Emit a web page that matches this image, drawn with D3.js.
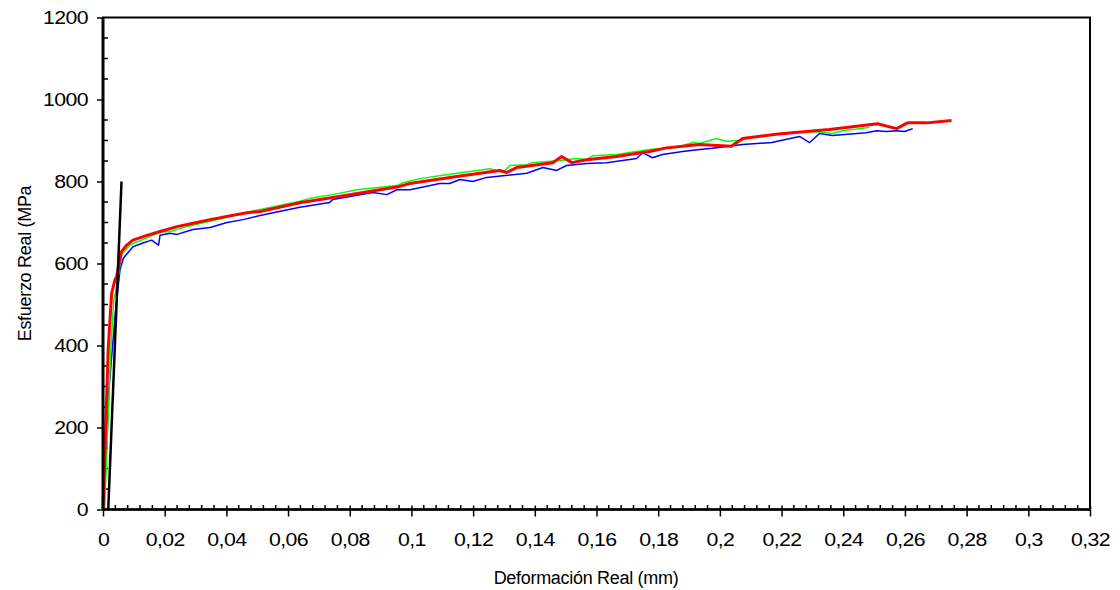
<!DOCTYPE html>
<html>
<head>
<meta charset="utf-8">
<script src="https://cdn.jsdelivr.net/npm/d3@7"></script>
<style>
  body { margin: 0; background: #fff; }
  #chart { width: 1120px; height: 590px; }
  text { font-family: "Liberation Sans", Arial, sans-serif; fill: #000; }
</style>
</head>
<body>
<div id="chart"></div>
<script>
// Tick values for both axes
var xTicks = [0, 0.02, 0.04, 0.06, 0.08, 0.1, 0.12, 0.14, 0.16, 0.18, 0.2, 0.22, 0.24, 0.26, 0.28, 0.3, 0.32];
var yTicks = [0, 200, 400, 600, 800, 1000, 1200];
var xLabel = "Deformación Real (mm)",
    yLabel = "Esfuerzo Real (MPa";

// Curve: [strain, stress]
var probetaAzul = [
  [0.0003, 0], [0.002, 300], [0.004, 480], [0.0055, 584], [0.0066, 613], [0.0097, 641], [0.013, 650],
  [0.0158, 657], [0.018, 645], [0.0185, 669], [0.0217, 674], [0.024, 671], [0.0292, 683], [0.0347, 688],
  [0.0402, 700], [0.0454, 707], [0.0509, 717], [0.0638, 737], [0.0735, 749], [0.0745, 756], [0.0875, 773],
  [0.092, 768], [0.0953, 780], [0.0995, 780], [0.1092, 795], [0.1124, 795], [0.1157, 805], [0.1199, 800],
  [0.1244, 810], [0.1374, 820], [0.1426, 834], [0.1471, 827], [0.1503, 839], [0.1568, 844], [0.1633, 846],
  [0.173, 856], [0.175, 870], [0.1782, 858], [0.1814, 866], [0.1879, 873], [0.1934, 878], [0.1976, 881],
  [0.2015, 885], [0.2074, 890], [0.2168, 895], [0.2258, 910], [0.2291, 895], [0.2323, 917], [0.2365, 912],
  [0.2475, 919], [0.2508, 924], [0.254, 922], [0.2573, 924], [0.2599, 922], [0.2625, 929]
];
var probetaVerde = [
  [0.0005, 0], [0.0025, 390], [0.0035, 510], [0.0044, 543], [0.006, 621], [0.0087, 645], [0.014, 662],
  [0.0185, 676], [0.0217, 678], [0.0272, 690], [0.0347, 703], [0.0444, 720], [0.0509, 732], [0.0638, 752],
  [0.0677, 760], [0.0745, 768], [0.0823, 780], [0.0953, 790], [0.0972, 797], [0.1027, 807], [0.1102, 815],
  [0.1166, 822], [0.1254, 831], [0.1296, 822], [0.1319, 839], [0.1374, 841], [0.1393, 846], [0.1481, 851],
  [0.1536, 856], [0.1568, 853], [0.1588, 863], [0.1665, 866], [0.1772, 878], [0.186, 883], [0.1912, 895],
  [0.1934, 893], [0.1989, 905], [0.2022, 898], [0.2064, 900], [0.2096, 907], [0.2236, 920], [0.2301, 922],
  [0.2365, 917], [0.2398, 924], [0.2485, 932]
];
var probetaRoja = [
  [0, 0], [0.0017, 392], [0.0028, 527], [0.0039, 561], [0.0044, 568], [0.006, 629], [0.0077, 645],
  [0.0097, 657], [0.014, 668], [0.0185, 678], [0.024, 690], [0.0292, 698], [0.0347, 707], [0.0402, 715],
  [0.0467, 724], [0.0509, 727], [0.0638, 748], [0.0745, 761], [0.0962, 788], [0.0994, 795], [0.1147, 812],
  [0.1286, 827], [0.1309, 822], [0.1341, 834], [0.1458, 846], [0.1487, 861], [0.152, 846], [0.1568, 853],
  [0.1665, 861], [0.1772, 873], [0.1827, 882], [0.1934, 890], [0.2037, 886], [0.2074, 905], [0.219, 916],
  [0.2355, 927], [0.2511, 941], [0.2573, 929], [0.2608, 943], [0.267, 943], [0.2751, 949]
];
// Elastic slope line
var rectaElastica = [[0.0017, 0], [0.006, 800]];

var series = [
  {name: "azul", data: probetaAzul, color: "#0000ff", width: 1.5},
  {name: "verde", data: probetaVerde, color: "#00ff00", width: 1.5},
  {name: "roja", data: probetaRoja, color: "#ff0000", width: 3},
  {name: "elastica", data: rectaElastica, color: "#000000", width: 2.5}
];

var width = 1120, height = 590,
    margins = {"top": 17.5, "bottom": 80.5, "left": 103, "right": 30},
    // Excel-looking wide glyphs for the tick labels
    stretch = 1.15;

var svg = d3.select("#chart")
  .append("svg")
    .attr("width", width)
    .attr("height", height);

var x = d3.scaleLinear().domain([0, 0.32]).range([margins.left, width - margins.right]);
var y = d3.scaleLinear().domain([0, 1200]).range([height - margins.bottom, margins.top]);

function coma(d) { return String(+d.toFixed(2)).replace(".", ","); }

// Frame (top and right)
svg.append("rect")
  .attr("x", x(0)).attr("y", y(1200))
  .attr("width", x(0.32) - x(0)).attr("height", y(0) - y(1200))
  .attr("fill", "none").attr("stroke", "#000").attr("stroke-width", 2);

// Minor ticks, pointing inside
svg.append("g")
  .selectAll("line")
  .data(d3.range(0, 1201, 50).filter(function(v) { return v % 200 != 0; }))
  .enter().append("line")
    .attr("x1", x(0)).attr("x2", x(0) + 5)
    .attr("y1", function(d) { return y(d); }).attr("y2", function(d) { return y(d); })
    .attr("stroke", "#000").attr("stroke-width", 1.5);

svg.append("g")
  .selectAll("line")
  .data(d3.range(0, 81).map(function(i) { return i * 0.004; }).filter(function(v, i) { return i % 5 != 0; }))
  .enter().append("line")
    .attr("x1", function(d) { return x(d); }).attr("x2", function(d) { return x(d); })
    .attr("y1", y(0)).attr("y2", y(0) - 4.5)
    .attr("stroke", "#000").attr("stroke-width", 1.5);

// Major ticks and labels
var yAxis = svg.append("g")
  .attr("transform", "translate(" + x(0) + ",0)")
  .call(d3.axisLeft(y).tickValues(yTicks).tickSize(6).tickPadding(8).tickFormat(coma));
yAxis.select(".domain").remove();

var xAxis = svg.append("g")
  .attr("transform", "translate(0," + y(0) + ")")
  .call(d3.axisBottom(x).tickValues(xTicks).tickSize(7).tickPadding(16).tickFormat(coma));
xAxis.select(".domain").remove();
xAxis.selectAll(".tick line").attr("y1", -4);

svg.selectAll(".tick line").attr("stroke", "#000").attr("stroke-width", 1.5);
svg.selectAll(".tick text")
  .attr("fill", "#000")
  .style("font-size", "18.5px")
  .style("letter-spacing", "-0.5px")
  .style("font-family", "'Liberation Sans', Arial, sans-serif");

// widen glyphs; y labels are pulled back so their right edge stays put
xAxis.selectAll(".tick text").attr("transform", "scale(" + stretch + ",1)");
yAxis.selectAll(".tick text")
  .attr("x", -15 / stretch)
  .attr("transform", "scale(" + stretch + ",1)");

// Curves
var line = d3.line()
  .x(function(d) { return x(d[0]); })
  .y(function(d) { return y(d[1]); });

svg.append("g")
  .selectAll("path")
  .data(series)
  .enter().append("path")
    .attr("d", function(d) { return line(d.data); })
    .attr("fill", "none")
    .attr("stroke", function(d) { return d.color; })
    .attr("stroke-width", function(d) { return d.width; })
    .attr("stroke-linejoin", "round");

// Axis lines drawn over everything
svg.append("line")
  .attr("x1", x(0)).attr("x2", x(0)).attr("y1", y(0)).attr("y2", y(1200))
  .attr("stroke", "#000").attr("stroke-width", 3);
svg.append("line")
  .attr("x1", x(0)).attr("x2", x(0.32)).attr("y1", y(0)).attr("y2", y(0))
  .attr("stroke", "#000").attr("stroke-width", 2.5);

// Axis titles
svg.append("text")
  .attr("x", 586).attr("y", 584)
  .attr("text-anchor", "middle")
  .style("font-size", "18px")
  .style("letter-spacing", "-0.3px")
  .text(xLabel);

svg.append("text")
  .attr("transform", "translate(31," + ((y(0) + y(1200)) / 2) + ") rotate(-90)")
  .attr("text-anchor", "middle")
  .style("font-size", "18px")
  .style("letter-spacing", "-0.3px")
  .text(yLabel);
</script>
</body>
</html>
